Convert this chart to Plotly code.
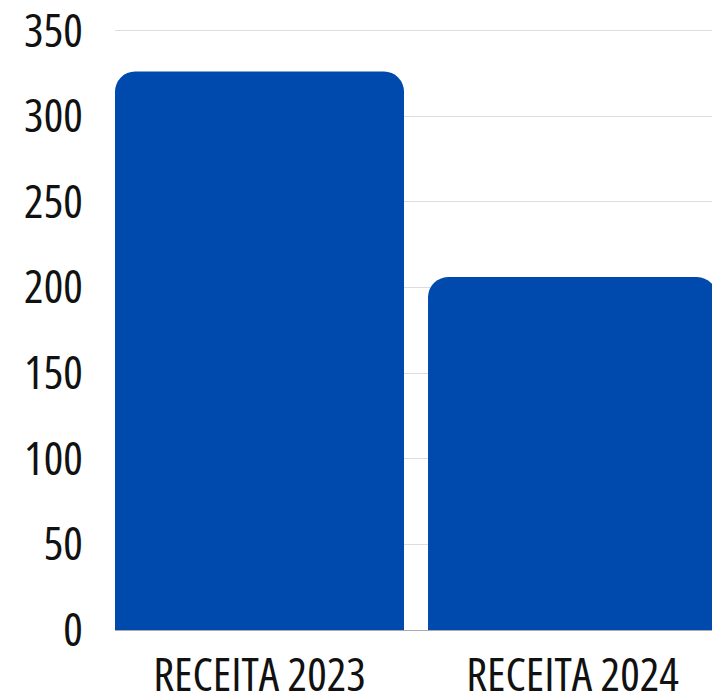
import plotly.graph_objects as go

categories = ["RECEITA 2023", "RECEITA 2024"]
values = [326, 206]
y_ticks = [0, 50, 100, 150, 200, 250, 300, 350]

FONT = "Open Sans"

fig = go.Figure(go.Bar(x=categories, y=values, marker=dict(color="#004AAD", line=dict(width=0))))

fig.update_layout(
    width=712, height=697,
    margin=dict(l=115, r=0, t=27, b=67),
    paper_bgcolor="white", plot_bgcolor="white",
    bargap=0.0767,
    barcornerradius=20,
    showlegend=False,
    font=dict(family=FONT, size=46, color="#111111", weight=500),
)
fig.update_xaxes(
    range=[-0.4617, -0.4617 + 597 / 313],
    showgrid=False, showline=False, zeroline=False, automargin=False,
    ticks="outside", ticklen=5, tickcolor="rgba(0,0,0,0)",
    ticklabeloverflow="allow",
    tickfont=dict(family=FONT, size=46, color="#111111", weight=500),
)
fig.update_yaxes(
    range=[0, 352], tickvals=y_ticks, automargin=False,
    showgrid=True, gridcolor="#DDDDDD", gridwidth=1,
    zeroline=True, zerolinecolor="#AAAAAA", zerolinewidth=1,
    showline=False,
    ticks="outside", ticklen=22, tickcolor="rgba(0,0,0,0)",
    ticklabeloverflow="allow",
    tickfont=dict(family=FONT, size=46, color="#111111", weight=500),
)

fig.write_html("out.html", config={"displayModeBar": False})

# page reset and condensed width of the variable Open Sans face
with open("out.html", encoding="utf-8") as fh:
    html = fh.read()
css = ("<style>html, body { margin: 0; padding: 0; }"
       " .xtick text, .ytick text { font-stretch: 75% !important; }</style>")
html = html.replace("</head>", css + "</head>", 1)
with open("out.html", "w", encoding="utf-8") as fh:
    fh.write(html)
